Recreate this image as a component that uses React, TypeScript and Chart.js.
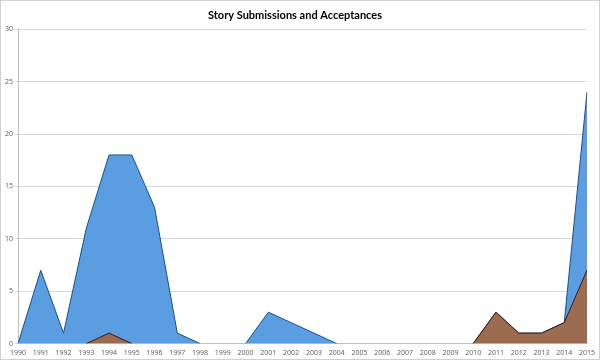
import React, { useEffect, useRef } from "react";
import { Chart, registerables } from "chart.js";

Chart.register(...registerables);

const years = [
  "1990","1991","1992","1993","1994","1995","1996","1997","1998","1999",
  "2000","2001","2002","2003","2004","2005","2006","2007","2008","2009",
  "2010","2011","2012","2013","2014","2015",
];
const submissions = [0, 7, 1, 11, 18, 18, 13, 1, 0, 0, 0, 3, 2, 1, 0, 0, 0, 0, 0, 0, 0, 3, 1, 1, 2, 24];
const acceptances: (number | null)[] = [null, null, null, 0, 1, 0, null, null, null, null, null, null, null, null, null, null, null, null, null, null, 0, 3, 1, 1, 2, 7];
const yTicks = [0, 5, 10, 15, 20, 25, 30];
const titleText = "Story Submissions and Acceptances";

export default function App() {
  const ref = useRef<HTMLCanvasElement>(null);
  useEffect(() => {
    document.body.style.margin = "0";
    const chart = new Chart(ref.current!, {
      type: "line",
      data: {
        labels: years,
        datasets: [
          {
            label: "Acceptances",
            data: acceptances,
            backgroundColor: "#9c6c52",
            borderColor: "#3a1a10",
            borderWidth: 1,
            fill: "origin",
            pointRadius: 0,
            tension: 0,
            spanGaps: false,
            order: 0,
            segment: {
              borderColor: (ctx: any) =>
                ctx.p0.parsed.y === 0 && ctx.p1.parsed.y === 0 ? "rgba(0,0,0,0)" : "#3a1a10",
            },
          },
          {
            label: "Submissions",
            data: submissions,
            backgroundColor: "#5a9de0",
            borderColor: "#1c4f8f",
            borderWidth: 1,
            fill: "origin",
            pointRadius: 0,
            tension: 0,
            order: 1,
            segment: {
              borderColor: (ctx: any) =>
                ctx.p0.parsed.y === 0 && ctx.p1.parsed.y === 0 ? "rgba(0,0,0,0)" : "#1c4f8f",
            },
          },
        ],
      },
      options: {
        animation: false,
        responsive: false,
        maintainAspectRatio: false,
        layout: { padding: { left: 2, right: 12, top: 0, bottom: 0 } },
        plugins: {
          legend: { display: false },
          tooltip: { enabled: false },
          title: {
            display: true,
            text: titleText,
            color: "#000",
            font: { family: "Lato", size: 11, weight: "bold" },
            padding: { top: 8, bottom: 7 },
          },
        },
        scales: {
          x: {
            offset: false,
            grid: { display: false, drawTicks: true, tickLength: 3 },
            border: { display: true, color: "#bfbfbf" },
            ticks: {
              autoSkip: false,
              maxRotation: 0,
              minRotation: 0,
              color: "#595959",
              font: { family: "Open Sans", size: 7 },
              padding: 2,
            },
          },
          y: {
            min: 0,
            max: 30,
            afterBuildTicks: (axis: any) => {
              axis.ticks = yTicks.map((v) => ({ value: v }));
            },
            grid: { color: "#d9d9d9", drawTicks: true, tickLength: 3 },
            border: { display: true, color: "#bfbfbf" },
            ticks: {
              color: "#595959",
              font: { family: "Open Sans", size: 7 },
              padding: 2,
            },
          },
        },
      },
    });
    return () => chart.destroy();
  }, []);
  return (
    <div
      style={{
        position: "absolute",
        left: 0,
        top: 0,
        width: 600,
        height: 360,
        border: "1px solid #d0d0d0",
        boxSizing: "border-box",
        background: "#fff",
      }}
    >
      <canvas ref={ref} width={598} height={358} style={{ display: "block" }} />
    </div>
  );
}
